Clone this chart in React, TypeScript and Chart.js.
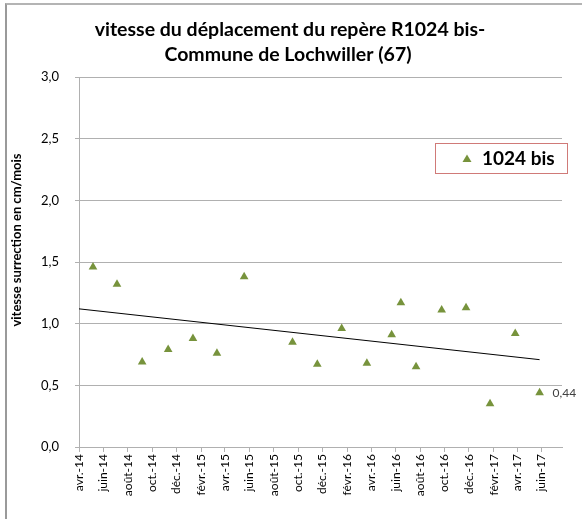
import React, { useEffect, useRef } from 'react';
import { Chart, registerables } from 'chart.js';

Chart.register(...registerables);

const titleLines = ['vitesse du déplacement du repère R1024 bis-', 'Commune de Lochwiller (67)'];
const yAxisTitle = 'vitesse surrection en cm/mois';
const seriesName = '1024 bis';

const measureDates = [
  '2014-05-06', '2014-07-05', '2014-09-06', '2014-11-10', '2015-01-11', '2015-03-12',
  '2015-05-19', '2015-09-17', '2015-11-18', '2016-01-18', '2016-03-21', '2016-05-22',
  '2016-06-14', '2016-07-22', '2016-09-24', '2016-11-24', '2017-01-23', '2017-03-27',
  '2017-05-27',
];
const speeds = [
  1.46, 1.32, 0.69, 0.79, 0.88, 0.76,
  1.38, 0.85, 0.67, 0.96, 0.68, 0.91,
  1.17, 0.65, 1.11, 1.13, 0.35, 0.92,
  0.44,
];

const tickDates = [
  '2014-04-01', '2014-06-01', '2014-08-01', '2014-10-01', '2014-12-01',
  '2015-02-01', '2015-04-01', '2015-06-01', '2015-08-01', '2015-10-01', '2015-12-01',
  '2016-02-01', '2016-04-01', '2016-06-01', '2016-08-01', '2016-10-01', '2016-12-01',
  '2017-02-01', '2017-04-01', '2017-06-01',
];
const tickLabels = [
  'avr.-14', 'juin-14', 'août-14', 'oct.-14', 'déc.-14',
  'févr.-15', 'avr.-15', 'juin-15', 'août-15', 'oct.-15', 'déc.-15',
  'févr.-16', 'avr.-16', 'juin-16', 'août-16', 'oct.-16', 'déc.-16',
  'févr.-17', 'avr.-17', 'juin-17',
];
const axisStart = '2014-04-01';
const axisEnd = '2017-07-22';
const yMin = 0;
const yMax = 3;
const yStep = 0.5;

const toDay = (s: string) => {
  const [y, m, d] = s.split('-').map(Number);
  const [y0, m0, d0] = axisStart.split('-').map(Number);
  return (Date.UTC(y, m - 1, d) - Date.UTC(y0, m0 - 1, d0)) / 86400000;
};

const fmt = (v: number, digits: number) => v.toFixed(digits).replace('.', ',');

const FONT = 'Lato, "Open Sans", sans-serif';
const GREEN = '#77933C';
const GRID = '#b0b0b0';

export default function App() {
  const ref = useRef<HTMLCanvasElement | null>(null);

  useEffect(() => {
    if (!ref.current) return;
    const xs = measureDates.map(toDay);
    const points = xs.map((x, i) => ({ x, y: speeds[i] }));

    // least-squares trend line
    const n = xs.length;
    const mx = xs.reduce((a, b) => a + b, 0) / n;
    const my = speeds.reduce((a, b) => a + b, 0) / n;
    let sxy = 0, sxx = 0;
    for (let i = 0; i < n; i++) {
      sxy += (xs[i] - mx) * (speeds[i] - my);
      sxx += (xs[i] - mx) * (xs[i] - mx);
    }
    const slope = sxy / sxx;
    const icpt = my - slope * mx;
    const x0 = toDay(axisStart);
    const x1 = xs[n - 1];
    const trend = [
      { x: x0, y: icpt + slope * x0 },
      { x: x1, y: icpt + slope * x1 },
    ];

    const overlay = {
      id: 'overlay',
      afterDraw(chart: any) {
        const ctx = chart.ctx;
        const xS = chart.scales.x;
        const yS = chart.scales.y;
        ctx.save();
        // title
        ctx.fillStyle = '#000';
        ctx.font = `bold 19.5px ${FONT}`;
        ctx.textAlign = 'center';
        ctx.textBaseline = 'middle';
        ctx.fillText(titleLines[0], 290, 30);
        ctx.fillText(titleLines[1], 288, 55);
        // y title
        ctx.save();
        ctx.translate(17, 240);
        ctx.rotate(-Math.PI / 2);
        ctx.font = `bold 13px ${FONT}`;
        ctx.fillText(yAxisTitle, 0, 0);
        ctx.restore();
        // legend
        ctx.strokeStyle = '#d07a78';
        ctx.lineWidth = 1;
        ctx.strokeRect(435.5, 143.5, 132, 30);
        ctx.fillStyle = GREEN;
        ctx.beginPath();
        ctx.moveTo(467, 154.5);
        ctx.lineTo(471.5, 162);
        ctx.lineTo(462.5, 162);
        ctx.closePath();
        ctx.fill();
        ctx.fillStyle = '#000';
        ctx.font = `bold 19px ${FONT}`;
        ctx.textAlign = 'left';
        ctx.fillText(seriesName, 482, 159);
        // data label on last point
        const last = points[points.length - 1];
        ctx.font = `12px ${FONT}`;
        ctx.fillStyle = '#404040';
        ctx.fillText(fmt(last.y, 2), xS.getPixelForValue(last.x) + 13, yS.getPixelForValue(last.y));
        ctx.restore();
      },
    };

    const chart = new Chart(ref.current, {
      type: 'scatter',
      data: {
        datasets: [
          {
            label: seriesName,
            data: points,
            pointStyle: 'triangle',
            pointRadius: 5,
            pointHoverRadius: 5,
            backgroundColor: GREEN,
            borderColor: GREEN,
            borderWidth: 0,
          },
          {
            type: 'line',
            label: 'trend',
            data: trend,
            borderColor: '#000',
            borderWidth: 1,
            pointRadius: 0,
            fill: false,
          } as any,
        ],
      },
      options: {
        animation: false,
        responsive: false,
        events: [],
        layout: { padding: { top: 77, right: 20, left: 0, bottom: 0 } },
        plugins: {
          legend: { display: false },
          title: { display: false },
          tooltip: { enabled: false },
        },
        scales: {
          x: {
            type: 'linear',
            min: toDay(axisStart),
            max: toDay(axisEnd),
            afterBuildTicks(scale: any) {
              scale.ticks = tickDates.map((d) => ({ value: toDay(d) }));
            },
            afterFit(scale: any) {
              scale.height = 72;
            },
            grid: {
              drawOnChartArea: false,
              drawTicks: true,
              tickLength: 5,
              color: GRID,
            },
            border: { display: true, color: GRID },
            ticks: {
              autoSkip: false,
              maxRotation: 90,
              minRotation: 90,
              padding: 2,
              color: '#000',
              font: { family: FONT, size: 12 },
              callback: (_v: any, i: number) => tickLabels[i],
            },
          },
          y: {
            min: yMin,
            max: yMax,
            afterFit(scale: any) {
              scale.width = 79;
            },
            grid: {
              color: GRID,
              tickLength: 4,
              drawTicks: true,
            },
            border: { display: true, color: GRID },
            ticks: {
              stepSize: yStep,
              padding: 16,
              color: '#000',
              font: { family: FONT, size: 13 },
              callback: (v: any) => fmt(Number(v), 1),
            },
          },
        },
      },
      plugins: [overlay],
    });
    return () => chart.destroy();
  }, []);

  return (
    <div style={{ position: 'fixed', left: 0, top: 0, width: 582, height: 519, overflow: 'hidden', background: '#fff' }}>
      <div
        style={{
          position: 'absolute',
          left: 5,
          top: 3,
          width: 700,
          height: 700,
          borderTop: '2px solid #b4b4b4',
          borderLeft: '2px solid #9a9a9a',
        }}
      />
      <canvas ref={ref} width={582} height={519} style={{ position: 'absolute', left: 0, top: 0 }} />
    </div>
  );
}
